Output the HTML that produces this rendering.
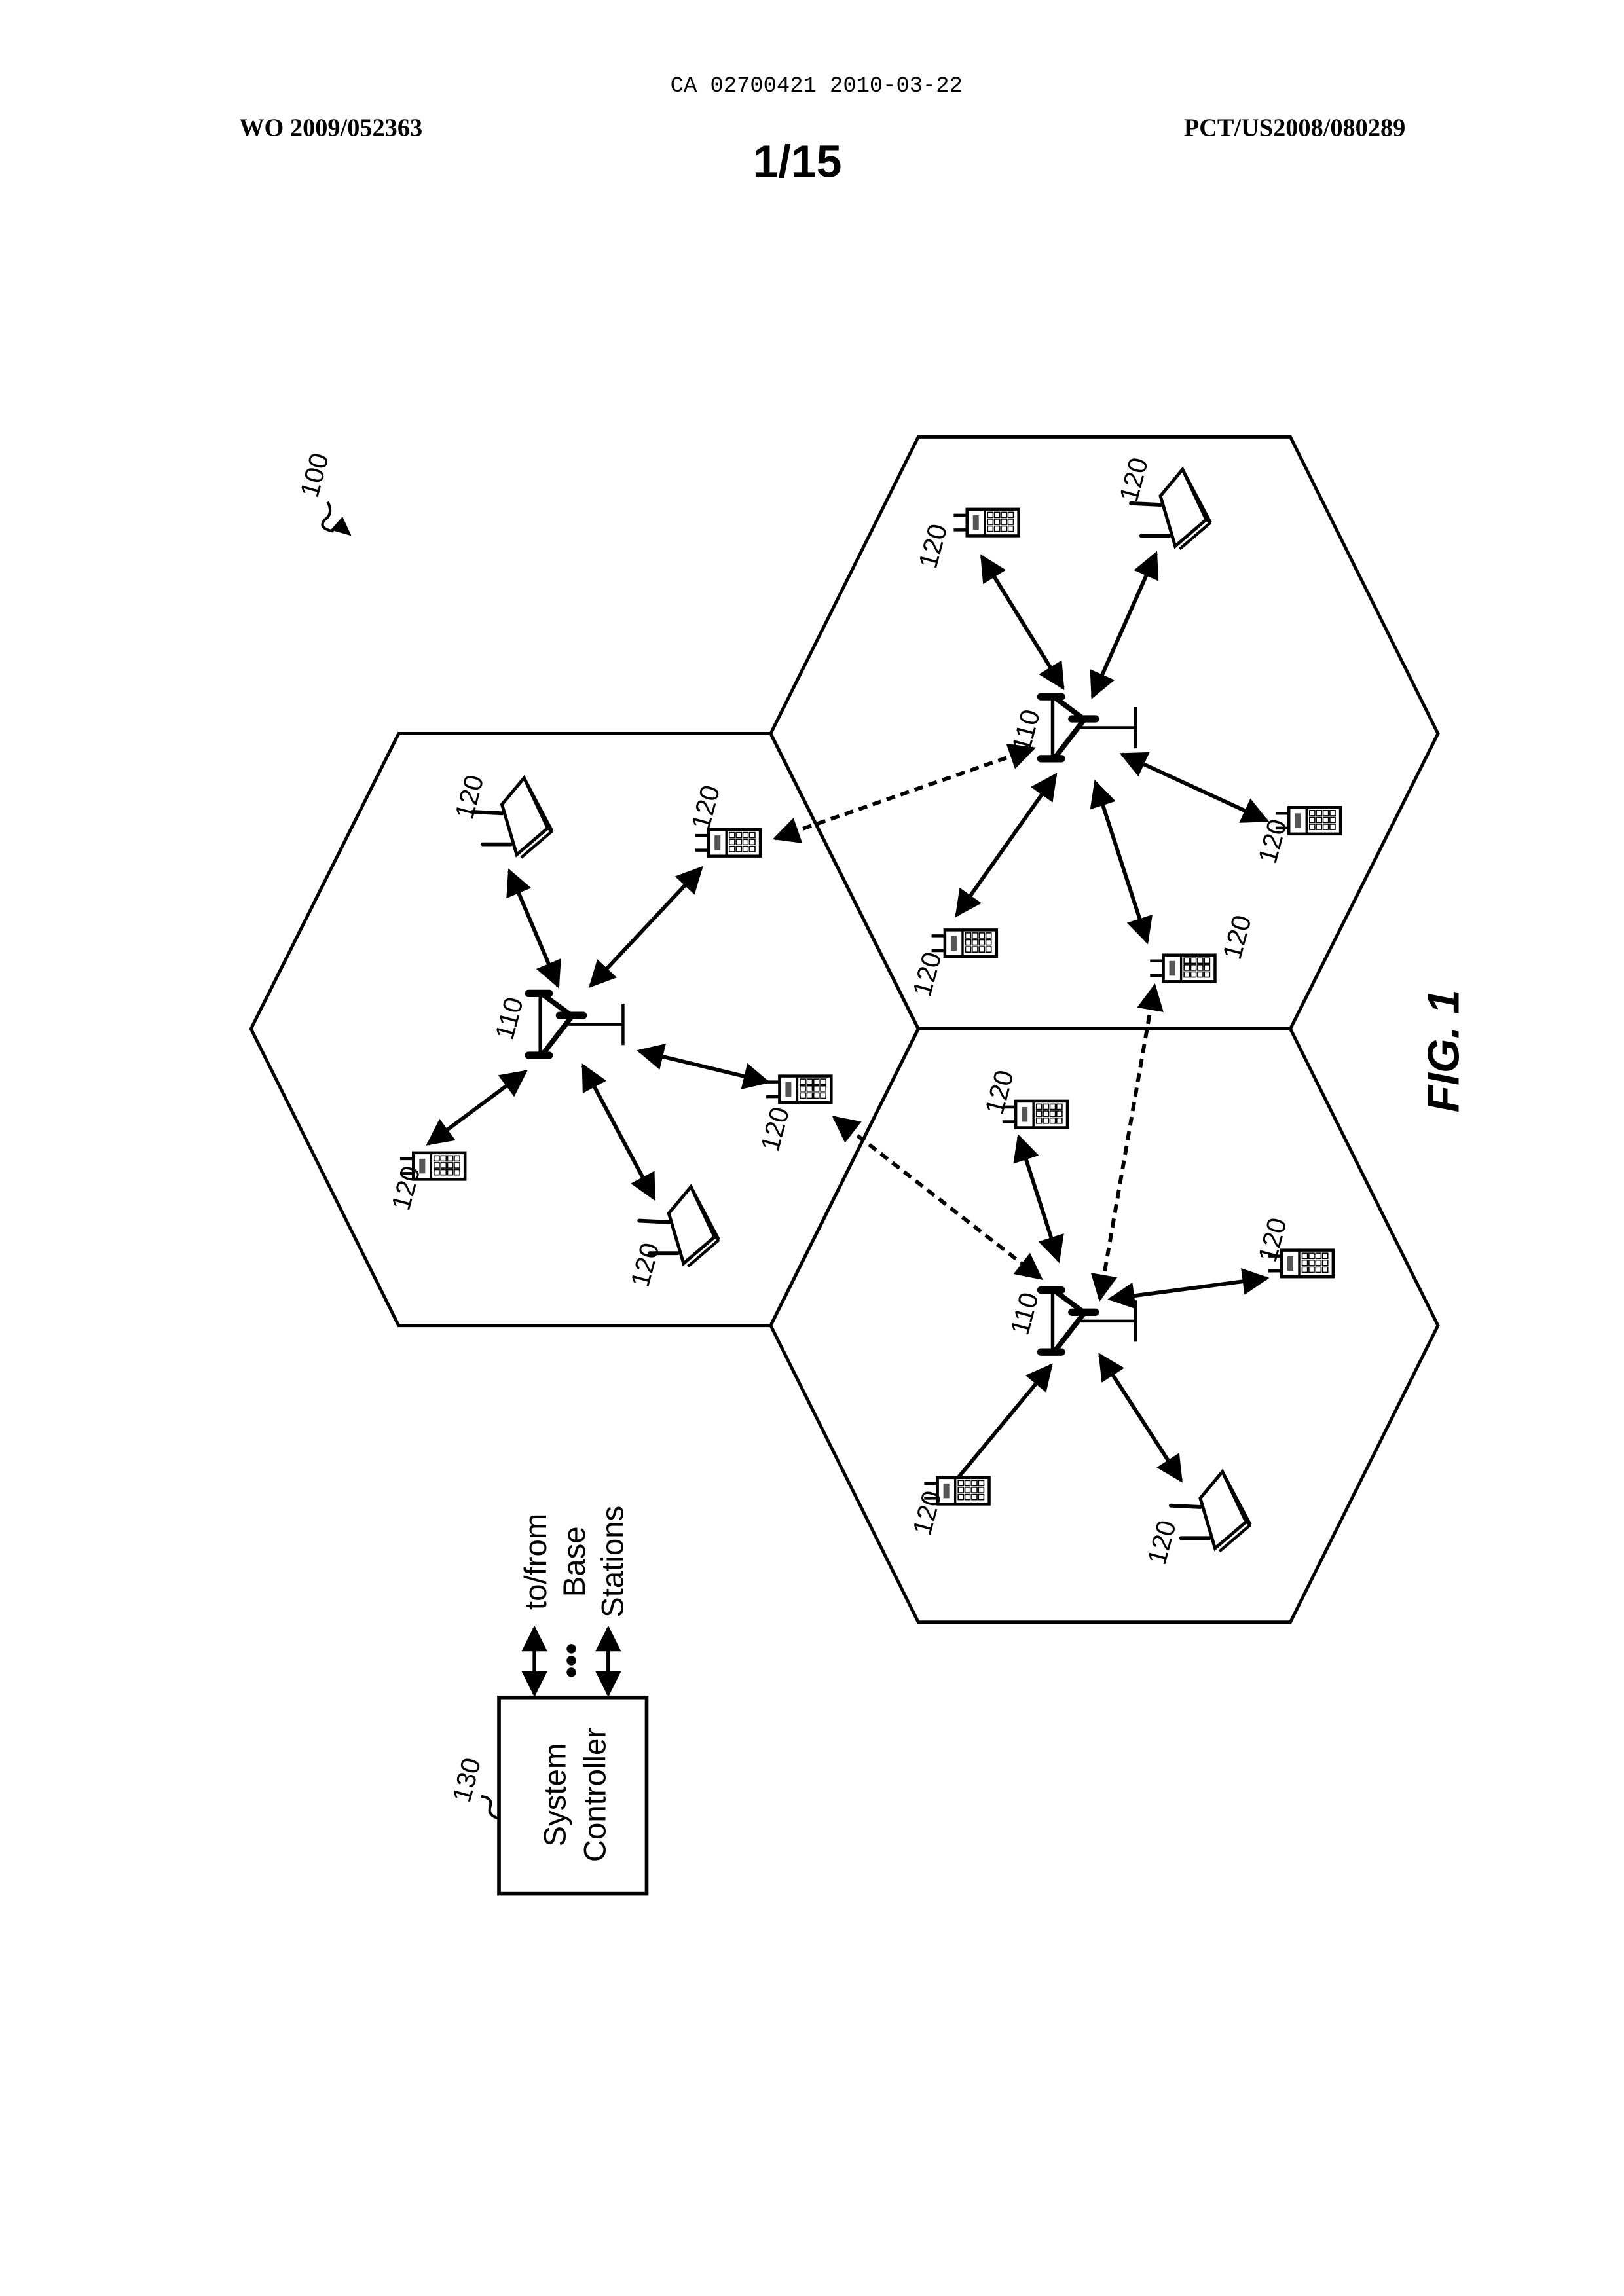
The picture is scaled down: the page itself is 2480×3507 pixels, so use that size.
<!DOCTYPE html>
<html><head><meta charset="utf-8">
<style>
html,body{margin:0;padding:0;background:#fff;}
svg{display:block;}
text{fill:#000;}
</style></head>
<body>
<svg id="fig" width="2480" height="3507" viewBox="0 0 1100 1555.5" xmlns="http://www.w3.org/2000/svg">
<defs>
<marker id="ah" viewBox="0 0 10 10" refX="9" refY="5" markerWidth="8" markerHeight="7" markerUnits="strokeWidth" orient="auto-start-reverse"><path d="M0,0 L10,5 L0,10 z" fill="#000"/></marker>
</defs>
<text x="553" y="62" font-family="Liberation Mono, monospace" font-size="15" text-anchor="middle">CA 02700421 2010-03-22</text>
<text x="162" y="92" font-family="Liberation Serif, serif" font-weight="bold" font-size="17">WO 2009/052363</text>
<text x="952" y="92" font-family="Liberation Serif, serif" font-weight="bold" font-size="17" text-anchor="end">PCT/US2008/080289</text>
<text x="540" y="120" font-family="Liberation Sans, sans-serif" font-weight="bold" font-size="31" text-anchor="middle">1/15</text>

<g fill="none" stroke="#000" stroke-width="2.2">
<polygon points="270,497 522,497 622,697 522,898 270,898 170,697"/>
<polygon points="622,296 874,296 974,497 874,697 622,697 522,497"/>
<polygon points="622,697 874,697 974,898 874,1099 622,1099 522,898"/>
</g>
<g id="arrows"></g>
<g id="devices"></g>
<g id="labels" font-family="Liberation Sans, sans-serif" font-size="18"></g>

<text transform="translate(215,338) rotate(-75)" font-family="Liberation Sans, sans-serif" font-size="18">100</text>
<path d="M222,340 q4,8 -2,12 q-5,6 6,8" fill="none" stroke="#000" stroke-width="1.8"/>
<path d="M238,363 l-14,-4 l8,-9 z" fill="#000"/>

<text transform="translate(988,712) rotate(-90)" font-family="Liberation Sans, sans-serif" font-weight="bold" font-style="italic" font-size="30" text-anchor="middle">FIG. 1</text>

<g>
<rect x="338" y="1150" width="100" height="133" fill="none" stroke="#000" stroke-width="2.5"/>
<text transform="translate(383,1216) rotate(-90)" font-family="Liberation Sans, sans-serif" font-size="21" text-anchor="middle">System</text>
<text transform="translate(410,1216) rotate(-90)" font-family="Liberation Sans, sans-serif" font-size="21" text-anchor="middle">Controller</text>
<text transform="translate(318,1222) rotate(-75)" font-family="Liberation Sans, sans-serif" font-size="18">130</text>
<path d="M338,1232 q-8,-2 -6,-8 q2,-6 -6,-7" fill="none" stroke="#000" stroke-width="1.8"/>
<line x1="362" y1="1148" x2="362" y2="1103" stroke="#000" stroke-width="2.5" marker-start="url(#ah)" marker-end="url(#ah)"/>
<line x1="412" y1="1148" x2="412" y2="1103" stroke="#000" stroke-width="2.5" marker-start="url(#ah)" marker-end="url(#ah)"/>
<circle cx="387" cy="1117" r="3.2"/>
<circle cx="387" cy="1125" r="3.2"/>
<circle cx="387" cy="1133" r="3.2"/>
<text transform="translate(370,1058) rotate(-90)" font-family="Liberation Sans, sans-serif" font-size="21" text-anchor="middle">to/from</text>
<text transform="translate(396,1058) rotate(-90)" font-family="Liberation Sans, sans-serif" font-size="21" text-anchor="middle">Base</text>
<text transform="translate(422,1058) rotate(-90)" font-family="Liberation Sans, sans-serif" font-size="21" text-anchor="middle">Stations</text>
</g>
</svg>
<script>
var NS = "http://www.w3.org/2000/svg";
var baseStations = [[375,697],[722,496],[722,898]];
var phones = [[497,571],[545,738],[297,790],[672,354],[890,556],[657,639],[805,656],[705,755],[885,856],[652,1010]];
var routers = [[352,553],[465,830],[798,344],[825,1023]];
var solidLinks = [[345,590,378,668],[475,588,400,668],[290,775,356,726],[395,722,443,812],[433,712,520,733],
 [665,377,720,466],[783,375,740,472],[760,511,858,556],[648,620,715,525],[777,638,742,530],
 [690,770,717,854],[752,880,858,866],[800,1003,745,918],[635,1018,712,925]];
var dashedLinks = [[525,568,700,507],[565,757,705,866],[782,668,745,880]];
var labels120 = [[318,540],[478,547],[525,765],[275,805],[437,857],[632,370],[768,325],[862,570],[628,660],[838,635],[677,740],[862,840],[628,1025],[787,1045]];
var labels110 = [[345,690],[695,495],[694,890]];

function mk(tag, parent){ var e=document.createElementNS(NS,tag); parent.appendChild(e); return e; }
var arrowsG=document.getElementById('arrows'), devG=document.getElementById('devices'), labG=document.getElementById('labels');

solidLinks.forEach(function(l){
  var e=mk('line',arrowsG);
  
  
  e.setAttribute('x1',l[0]);e.setAttribute('y1',l[1]);e.setAttribute('x2',l[2]);e.setAttribute('y2',l[3]);
  e.setAttribute('stroke','#000');e.setAttribute('stroke-width','2.6');
  e.setAttribute('marker-start','url(#ah)');e.setAttribute('marker-end','url(#ah)');
});
dashedLinks.forEach(function(l){
  var e=mk('line',arrowsG);
  
  
  e.setAttribute('x1',l[0]);e.setAttribute('y1',l[1]);e.setAttribute('x2',l[2]);e.setAttribute('y2',l[3]);
  e.setAttribute('stroke','#000');e.setAttribute('stroke-width','2.6');e.setAttribute('stroke-dasharray','6,4');
  e.setAttribute('marker-start','url(#ah)');e.setAttribute('marker-end','url(#ah)');
});

baseStations.forEach(function(b){
  var g=mk('g',devG);
  
  
  g.setAttribute('transform','translate('+b[0]+','+b[1]+')');
  g.setAttribute('stroke','#000');g.setAttribute('fill','none');
  g.innerHTML='<line x1="-9" y1="-24" x2="-9" y2="18" stroke-width="2.4"/>'+
   '<line x1="-17" y1="-24" x2="-3" y2="-24" stroke-width="5" stroke-linecap="round"/>'+
   '<line x1="-17" y1="18" x2="-3" y2="18" stroke-width="5" stroke-linecap="round"/>'+
   '<line x1="4" y1="-9" x2="20" y2="-9" stroke-width="5" stroke-linecap="round"/>'+
   '<line x1="-7" y1="-23" x2="12" y2="-9" stroke-width="3.5"/>'+
   '<line x1="12" y1="-8" x2="-8" y2="18" stroke-width="3.5"/>'+
   '<line x1="10" y1="-3" x2="47" y2="-3" stroke-width="2"/>'+
   '<line x1="47" y1="-17" x2="47" y2="11" stroke-width="2"/>';
});

phones.forEach(function(p){
  var g=mk('g',devG);
  
  
  g.setAttribute('transform','translate('+p[0]+','+p[1]+')');
  var s='<line x1="-26" y1="-5" x2="-17" y2="-5" stroke="#000" stroke-width="2"/><line x1="-26" y1="5" x2="-17" y2="5" stroke="#000" stroke-width="2"/>'+
   '<rect x="-17" y="-9" width="35" height="18" fill="#fff" stroke="#000" stroke-width="2"/>'+
   '<line x1="-5" y1="-9" x2="-5" y2="9" stroke="#000" stroke-width="1.5"/>'+
   '<rect x="-13" y="-5" width="4" height="10" fill="#555"/>';
  for(var r=0;r<3;r++)for(var c=0;c<4;c++) s+='<rect x="'+(-3+c*4.6)+'" y="'+(-7+r*4.7)+'" width="3.6" height="3.6" fill="none" stroke="#000" stroke-width="0.7"/>';
  g.innerHTML=s;
});

routers.forEach(function(p){
  var g=mk('g',devG);
  
  
  g.setAttribute('transform','translate('+p[0]+','+p[1]+')');
  g.innerHTML='<polygon points="-12,-8 3,-26 19,8 -2,26" fill="#fff" stroke="#000" stroke-width="2.2"/>'+
   '<line x1="3" y1="-26" x2="22" y2="10" stroke="#000" stroke-width="2"/><line x1="19" y1="8" x2="22" y2="10" stroke="#000" stroke-width="2"/>'+
   '<line x1="22" y1="10" x2="1" y2="28" stroke="#000" stroke-width="2"/>'+
   '<line x1="-12" y1="-2" x2="-32" y2="-3" stroke="#000" stroke-width="2.6" stroke-linecap="round"/>'+
   '<line x1="-6" y1="19" x2="-25" y2="19" stroke="#000" stroke-width="2.6" stroke-linecap="round"/>';
});

labels120.forEach(function(p){
  var t=mk('text',labG);
  
  
  t.setAttribute('text-anchor','middle');
  t.setAttribute('transform','translate('+p[0]+','+p[1]+') rotate(-75)');
  t.setAttribute('dy','6');
  t.textContent='120';
});
labels110.forEach(function(p){
  var t=mk('text',labG);
  
  
  t.setAttribute('text-anchor','middle');
  t.setAttribute('transform','translate('+p[0]+','+p[1]+') rotate(-75)');
  t.setAttribute('dy','6');
  t.textContent='110';
});
</script>
</body></html>
